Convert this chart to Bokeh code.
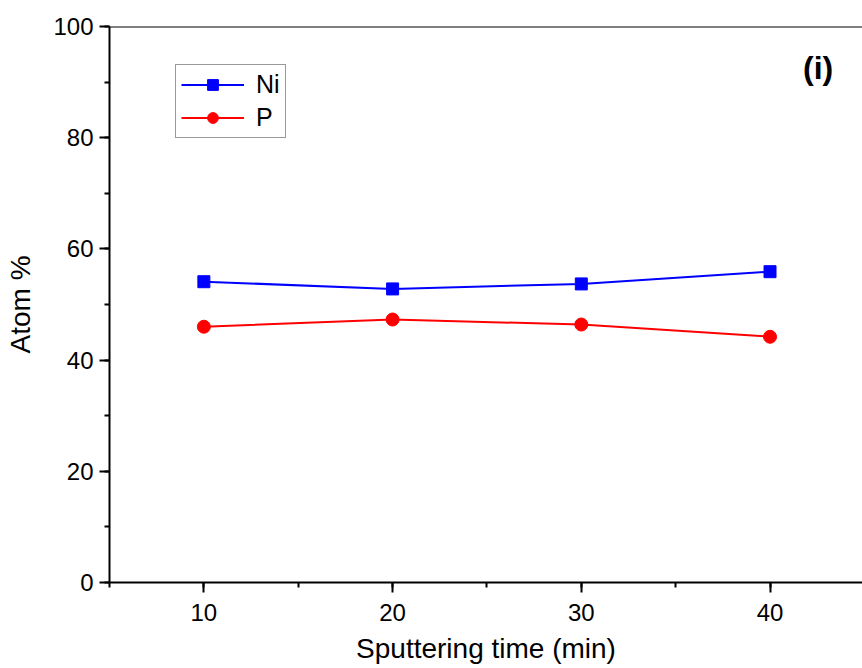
from bokeh.plotting import figure
from bokeh.models import Range1d, Span, Label, Legend, SingleIntervalTicker
from bokeh.embed import file_html
from bokeh.resources import INLINE

time_min = [10, 20, 30, 40]
ni_atom = [54.1, 52.8, 53.7, 55.9]
p_atom = [46.0, 47.3, 46.4, 44.2]

FONT = "Liberation Sans"

p = figure(width=862, height=668, output_backend="svg", toolbar_location=None,
           x_range=Range1d(5, 44.9), y_range=Range1d(0, 100),
           min_border_left=109, min_border_top=26, min_border_bottom=86, min_border_right=0)
p.outline_line_color = None
p.xgrid.visible = False
p.ygrid.visible = False
p.background_fill_color = "white"
p.border_fill_color = "white"

p.xaxis.ticker = SingleIntervalTicker(interval=10, num_minor_ticks=2)
p.yaxis.ticker = SingleIntervalTicker(interval=20, num_minor_ticks=2)

for ax in (p.xaxis[0], p.yaxis[0]):
    ax.axis_line_width = 2
    ax.axis_line_color = "black"
    ax.major_tick_line_width = 2
    ax.minor_tick_line_width = 2
    ax.major_tick_in = 0
    ax.major_tick_out = 10
    ax.minor_tick_in = 0
    ax.minor_tick_out = 5
    ax.major_label_text_font = FONT
    ax.major_label_text_font_size = "24px"
    ax.major_label_text_color = "black"
    ax.axis_label_text_font = FONT
    ax.axis_label_text_font_size = "28px"
    ax.axis_label_text_font_style = "normal"
    ax.axis_label_text_color = "black"

p.xaxis.axis_label = "Sputtering time (min)"
p.yaxis.axis_label = "Atom %"
p.xaxis.major_label_standoff = 11
p.xaxis.axis_label_standoff = 9
p.yaxis.major_label_standoff = 6
p.yaxis.axis_label_standoff = 14

p.add_layout(Span(location=100, dimension="width", line_color="black", line_width=2))

l1 = p.line(time_min, ni_atom, line_color="#0000FF", line_width=2)
s1 = p.scatter(time_min, ni_atom, marker="square", size=12, fill_color="#0000FF", line_color="#0000FF")
l2 = p.line(time_min, p_atom, line_color="#FF0000", line_width=2)
s2 = p.scatter(time_min, p_atom, marker="circle", size=13, fill_color="#FF0000", line_color="#FF0000")

legend = Legend(items=[("Ni", [l1, s1]), ("P", [l2, s2])], location=(66, 444))
legend.label_text_font = FONT
legend.label_text_font_size = "25px"
legend.label_text_color = "black"
legend.glyph_width = 63
legend.glyph_height = 27
legend.label_height = 27
legend.label_standoff = 12
legend.spacing = 4
legend.padding = 5
legend.margin = 0
legend.border_line_color = "#333333"
legend.border_line_width = 1
p.add_layout(legend)

p.add_layout(Label(x=42.55, y=92.5, text="(i)", text_align="center", text_baseline="middle",
                   text_font=FONT, text_font_style="bold", text_font_size="32px", text_color="black"))

open("out.html", "w").write(file_html(p, INLINE))
